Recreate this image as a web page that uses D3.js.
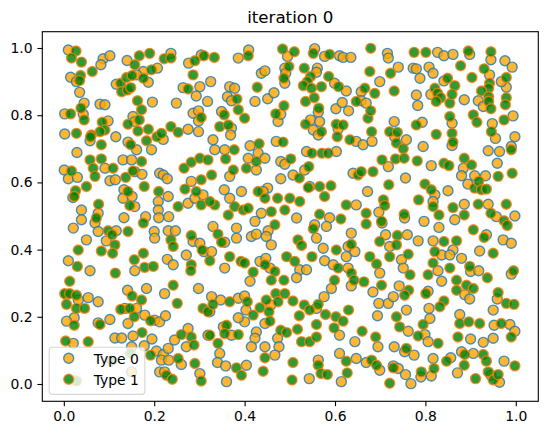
<!DOCTYPE html>
<html><head><meta charset="utf-8">
<script src="https://cdn.jsdelivr.net/npm/d3@7"></script>
<style>body{margin:0;background:#fff}svg{display:block}text{font-family:"DejaVu Sans",sans-serif}</style>
</head><body><svg id="c" width="547" height="434"></svg>
<script>
const chartTitle = "iteration 0";
const seriesNames = ["Type 0", "Type 1"];
const xTicks = [0, 0.2, 0.4, 0.6, 0.8, 1.0];
const yTicks = [0, 0.2, 0.4, 0.6, 0.8, 1.0];

const type0Points = [
[0.010,0.994],[0.087,0.968],[0.102,0.977],[0.082,0.950],[0.140,0.963],[0.176,0.930],[0.207,0.940],[0.237,0.984],[0.276,0.955],[0.304,0.979],[0.015,0.913],[0.028,0.900],[0.035,0.868],[0.116,0.892],[0.161,0.920],[0.187,0.898],[0.264,0.882],[0.301,0.885],[0.293,0.857],[0.318,0.841],[0.045,0.836],[0.080,0.833],[0.091,0.831],[0.196,0.839],[0.249,0.836],[0.002,0.804],[0.043,0.803],[0.153,0.796],[0.157,0.781],[0.286,0.806],[0.298,0.813],[0.298,0.783],[0.098,0.783],[0.002,0.744],[0.058,0.724],[0.115,0.736],[0.220,0.728],[0.275,0.758],[0.298,0.751],[0.142,0.720],[0.161,0.697],[0.029,0.689],[0.194,0.697],
[0.386,0.970],[0.409,0.994],[0.495,0.975],[0.489,0.940],[0.555,0.998],[0.577,0.975],[0.610,0.977],[0.618,0.972],[0.635,0.972],[0.437,0.925],[0.445,0.932],[0.491,0.925],[0.489,0.895],[0.561,0.940],[0.559,0.928],[0.599,0.895],[0.625,0.872],[0.325,0.900],[0.367,0.885],[0.378,0.880],[0.658,0.870],[0.362,0.855],[0.371,0.843],[0.423,0.841],[0.451,0.849],[0.465,0.867],[0.474,0.781],[0.480,0.803],[0.563,0.809],[0.602,0.819],[0.616,0.838],[0.630,0.813],[0.658,0.843],[0.669,0.836],[0.349,0.811],[0.371,0.761],[0.369,0.741],[0.546,0.786],[0.552,0.756],[0.566,0.781],[0.563,0.741],[0.607,0.759],[0.330,0.727],[0.334,0.697],[0.356,0.697],[0.412,0.709],[0.430,0.687],[0.470,0.722],[0.647,0.722],[0.537,0.692],[0.603,0.692],[0.662,0.712],
[0.716,0.984],[0.718,0.970],[0.827,0.987],[0.841,0.977],[0.861,0.981],[0.898,0.981],[0.945,0.965],[0.740,0.943],[0.773,0.940],[0.780,0.938],[0.808,0.943],[0.817,0.925],[0.788,0.910],[0.942,0.920],[0.976,0.962],[0.992,0.943],[0.979,0.883],[0.699,0.900],[0.841,0.902],[0.968,0.900],[0.780,0.860],[0.783,0.829],[0.812,0.862],[0.886,0.846],[0.917,0.843],[0.928,0.826],[0.994,0.798],[0.859,0.776],[0.948,0.775],[0.731,0.781],[0.793,0.779],[0.682,0.722],[0.732,0.736],[0.758,0.727],[0.795,0.707],[0.859,0.710],[0.955,0.731],[0.998,0.736],[0.990,0.707],[0.964,0.692],[0.939,0.694],
[0.091,0.642],[0.131,0.667],[0.150,0.667],[0.001,0.637],[0.010,0.611],[0.030,0.615],[0.102,0.605],[0.114,0.608],[0.157,0.632],[0.173,0.624],[0.212,0.627],[0.220,0.622],[0.229,0.611],[0.133,0.578],[0.131,0.553],[0.151,0.558],[0.157,0.528],[0.209,0.543],[0.231,0.558],[0.275,0.538],[0.282,0.603],[0.290,0.553],[0.308,0.563],[0.039,0.518],[0.039,0.489],[0.021,0.464],[0.076,0.508],[0.069,0.479],[0.133,0.495],[0.181,0.498],[0.209,0.518],[0.210,0.495],[0.232,0.498],[0.076,0.454],[0.116,0.456],[0.094,0.426],[0.200,0.454],[0.201,0.434],[0.231,0.456],[0.247,0.456],[0.286,0.424],[0.301,0.419],[0.310,0.394],[0.050,0.429],[0.010,0.367],[0.058,0.337],[0.157,0.337],[0.229,0.371],[0.242,0.355],[0.271,0.384],[0.020,0.555],
[0.367,0.618],[0.408,0.672],[0.426,0.637],[0.445,0.672],[0.480,0.662],[0.489,0.654],[0.480,0.611],[0.507,0.622],[0.533,0.637],[0.544,0.588],[0.640,0.627],[0.355,0.578],[0.367,0.553],[0.393,0.573],[0.451,0.583],[0.441,0.573],[0.437,0.508],[0.515,0.494],[0.672,0.573],[0.647,0.533],[0.423,0.484],[0.452,0.456],[0.588,0.495],[0.555,0.474],[0.581,0.469],[0.636,0.449],[0.330,0.469],[0.356,0.422],[0.382,0.464],[0.382,0.434],[0.415,0.439],[0.426,0.446],[0.448,0.439],[0.459,0.414],[0.574,0.404],[0.559,0.434],[0.625,0.379],[0.629,0.409],[0.644,0.394],[0.327,0.394],[0.356,0.345],[0.434,0.365],[0.447,0.374],[0.456,0.345],[0.522,0.340],[0.537,0.340],[0.577,0.367],[0.629,0.345],[0.596,0.355],
[0.718,0.647],[0.813,0.650],[0.884,0.642],[0.880,0.620],[0.909,0.620],[0.933,0.620],[0.959,0.657],[0.756,0.613],[0.821,0.563],[0.817,0.543],[0.850,0.575],[0.894,0.595],[0.886,0.535],[0.939,0.535],[0.697,0.511],[0.704,0.479],[0.754,0.494],[0.797,0.484],[0.830,0.466],[0.865,0.489],[0.957,0.498],[0.998,0.500],[0.935,0.444],[0.972,0.429],[0.990,0.419],[0.712,0.444],[0.760,0.444],[0.784,0.426],[0.721,0.409],[0.817,0.426],[0.861,0.399],[0.836,0.384],[0.920,0.396],[0.699,0.330],[0.747,0.370],[0.751,0.345],[0.828,0.337],[0.854,0.384],[0.880,0.374],[0.900,0.335],[0.918,0.337],[0.990,0.327],
[0.006,0.266],[0.032,0.250],[0.054,0.257],[0.076,0.245],[0.023,0.197],[0.141,0.279],[0.183,0.284],[0.223,0.269],[0.298,0.284],[0.135,0.225],[0.161,0.225],[0.142,0.180],[0.179,0.205],[0.201,0.190],[0.212,0.185],[0.225,0.203],[0.006,0.187],[0.076,0.182],[0.102,0.192],[0.113,0.137],[0.128,0.137],[0.153,0.143],[0.195,0.134],[0.178,0.114],[0.275,0.165],[0.245,0.131],[0.271,0.111],[0.319,0.145],[0.021,0.121],[0.150,0.111],[0.205,0.098],[0.220,0.088],[0.231,0.106],[0.216,0.071],[0.232,0.071],[0.260,0.058],[0.212,0.036],[0.223,0.036],[0.301,0.031],[0.150,0.036],
[0.412,0.306],[0.515,0.316],[0.592,0.284],[0.636,0.292],[0.327,0.260],[0.323,0.215],[0.347,0.250],[0.386,0.255],[0.400,0.262],[0.458,0.235],[0.403,0.220],[0.400,0.185],[0.386,0.197],[0.445,0.180],[0.559,0.225],[0.576,0.260],[0.610,0.145],[0.353,0.170],[0.371,0.145],[0.426,0.155],[0.423,0.136],[0.415,0.111],[0.445,0.111],[0.473,0.136],[0.476,0.111],[0.467,0.086],[0.644,0.126],[0.610,0.091],[0.647,0.076],[0.669,0.064],[0.345,0.091],[0.340,0.064],[0.358,0.054],[0.404,0.056],[0.360,0.007],[0.543,0.016],[0.563,0.071],[0.614,0.007],
[0.684,0.274],[0.742,0.292],[0.836,0.306],[0.887,0.266],[0.898,0.253],[0.697,0.240],[0.718,0.240],[0.694,0.203],[0.729,0.260],[0.758,0.220],[0.806,0.276],[0.808,0.225],[0.810,0.195],[0.959,0.253],[0.950,0.220],[0.762,0.157],[0.799,0.147],[0.806,0.126],[0.876,0.207],[0.952,0.175],[0.987,0.177],[0.998,0.157],[0.950,0.136],[0.695,0.111],[0.731,0.111],[0.754,0.096],[0.775,0.086],[0.900,0.134],[0.928,0.124],[0.880,0.096],[0.906,0.091],[0.699,0.041],[0.729,0.054],[0.740,0.046],[0.756,0.028],[0.768,0.001],[0.817,0.076],[0.813,0.024],[0.790,0.021],[0.856,0.078],[0.871,0.033],[0.974,0.068],[0.945,0.026],[0.964,0.005]
];

const type1Points = [
[0.027,0.991],[0.017,0.970],[0.039,0.958],[0.063,0.930],[0.167,0.977],[0.190,0.984],[0.157,0.950],[0.194,0.935],[0.222,0.968],[0.237,0.970],[0.290,0.962],[0.310,0.977],[0.037,0.918],[0.035,0.903],[0.126,0.895],[0.139,0.912],[0.151,0.918],[0.128,0.870],[0.141,0.875],[0.148,0.882],[0.176,0.910],[0.286,0.920],[0.275,0.878],[0.038,0.821],[0.163,0.843],[0.015,0.804],[0.045,0.786],[0.172,0.816],[0.167,0.786],[0.142,0.773],[0.304,0.793],[0.085,0.779],[0.091,0.756],[0.080,0.751],[0.028,0.746],[0.061,0.741],[0.059,0.735],[0.164,0.753],[0.187,0.758],[0.183,0.724],[0.206,0.736],[0.216,0.746],[0.237,0.766],[0.253,0.749],[0.148,0.712],[0.083,0.712],
[0.333,0.972],[0.408,0.977],[0.484,0.997],[0.510,0.989],[0.498,0.945],[0.552,0.984],[0.588,0.981],[0.487,0.910],[0.532,0.940],[0.546,0.915],[0.539,0.900],[0.530,0.888],[0.548,0.880],[0.586,0.915],[0.570,0.885],[0.608,0.885],[0.428,0.883],[0.666,0.880],[0.383,0.848],[0.487,0.828],[0.469,0.804],[0.535,0.841],[0.554,0.852],[0.564,0.821],[0.647,0.841],[0.673,0.791],[0.386,0.816],[0.400,0.791],[0.355,0.801],[0.345,0.766],[0.364,0.771],[0.535,0.773],[0.570,0.751],[0.603,0.773],[0.618,0.771],[0.377,0.697],[0.432,0.715],[0.485,0.720],[0.605,0.736],[0.633,0.727],[0.549,0.687],[0.571,0.687],[0.585,0.687],
[0.679,0.999],[0.775,0.987],[0.801,0.987],[0.895,0.991],[0.945,0.989],[0.878,0.947],[0.903,0.912],[0.930,0.938],[0.979,0.912],[0.677,0.930],[0.723,0.925],[0.849,0.910],[0.865,0.888],[0.942,0.895],[0.940,0.880],[0.731,0.872],[0.688,0.865],[0.821,0.880],[0.827,0.865],[0.834,0.852],[0.824,0.841],[0.854,0.836],[0.859,0.862],[0.924,0.872],[0.940,0.855],[0.940,0.841],[0.945,0.819],[0.979,0.852],[0.977,0.831],[0.679,0.813],[0.854,0.796],[0.906,0.801],[0.914,0.779],[0.974,0.786],[0.780,0.771],[0.681,0.751],[0.721,0.751],[0.738,0.749],[0.736,0.717],[0.751,0.700],[0.824,0.743],[0.859,0.746],[0.861,0.720],[0.946,0.751],[0.990,0.697],
[0.058,0.667],[0.083,0.670],[0.065,0.642],[0.109,0.642],[0.172,0.662],[0.017,0.634],[0.069,0.618],[0.137,0.615],[0.153,0.634],[0.178,0.588],[0.266,0.642],[0.282,0.660],[0.301,0.672],[0.319,0.667],[0.050,0.588],[0.026,0.575],[0.023,0.558],[0.142,0.573],[0.146,0.531],[0.210,0.573],[0.253,0.528],[0.304,0.608],[0.268,0.580],[0.293,0.573],[0.304,0.533],[0.077,0.535],[0.072,0.494],[0.176,0.479],[0.098,0.456],[0.107,0.444],[0.142,0.454],[0.113,0.414],[0.237,0.429],[0.242,0.409],[0.282,0.442],[0.306,0.399],[0.032,0.399],[0.083,0.396],[0.108,0.389],[0.030,0.350],[0.156,0.370],[0.176,0.389],[0.179,0.347],[0.198,0.350],[0.282,0.355],[0.281,0.337],[0.114,0.330],
[0.358,0.670],[0.375,0.637],[0.426,0.662],[0.404,0.642],[0.502,0.670],[0.521,0.613],[0.542,0.647],[0.541,0.585],[0.566,0.588],[0.591,0.590],[0.577,0.558],[0.651,0.622],[0.658,0.632],[0.327,0.622],[0.334,0.533],[0.323,0.543],[0.378,0.528],[0.430,0.573],[0.445,0.553],[0.397,0.518],[0.408,0.523],[0.473,0.553],[0.500,0.553],[0.522,0.543],[0.459,0.513],[0.489,0.518],[0.625,0.533],[0.364,0.503],[0.467,0.474],[0.566,0.505],[0.613,0.491],[0.552,0.462],[0.669,0.508],[0.669,0.476],[0.341,0.446],[0.349,0.422],[0.518,0.429],[0.526,0.412],[0.603,0.399],[0.636,0.416],[0.367,0.379],[0.323,0.367],[0.392,0.365],[0.400,0.360],[0.419,0.333],[0.445,0.355],[0.467,0.335],[0.493,0.379],[0.511,0.365],[0.549,0.379],[0.607,0.345],[0.636,0.330],
[0.704,0.667],[0.734,0.670],[0.753,0.672],[0.782,0.664],[0.841,0.657],[0.852,0.650],[0.886,0.672],[0.902,0.652],[0.992,0.627],[0.961,0.618],[0.684,0.632],[0.719,0.593],[0.799,0.595],[0.813,0.578],[0.817,0.528],[0.785,0.548],[0.909,0.583],[0.918,0.603],[0.924,0.578],[0.935,0.580],[0.861,0.525],[0.917,0.535],[0.979,0.535],[0.707,0.548],[0.710,0.531],[0.703,0.484],[0.753,0.505],[0.830,0.503],[0.886,0.503],[0.945,0.508],[0.974,0.486],[0.981,0.472],[0.906,0.459],[0.930,0.436],[0.699,0.424],[0.738,0.442],[0.736,0.414],[0.841,0.424],[0.869,0.426],[0.821,0.394],[0.950,0.389],[0.677,0.379],[0.692,0.357],[0.721,0.379],[0.762,0.386],[0.766,0.325],[0.817,0.360],[0.806,0.325],[0.854,0.345],[0.898,0.350],[0.995,0.337],
[0.013,0.306],[0.002,0.269],[0.013,0.269],[0.028,0.264],[0.006,0.237],[0.028,0.225],[0.046,0.225],[0.151,0.262],[0.172,0.250],[0.242,0.294],[0.251,0.240],[0.126,0.222],[0.146,0.225],[0.156,0.200],[0.192,0.188],[0.308,0.225],[0.319,0.215],[0.023,0.175],[0.080,0.177],[0.173,0.153],[0.192,0.086],[0.260,0.147],[0.282,0.140],[0.288,0.116],[0.004,0.128],[0.054,0.126],[0.148,0.091],[0.253,0.076],[0.290,0.061],[0.227,0.026],[0.240,0.014],[0.304,0.009],[0.028,0.009],[0.105,0.068],
[0.459,0.309],[0.487,0.309],[0.599,0.309],[0.642,0.309],[0.664,0.304],[0.330,0.237],[0.367,0.245],[0.406,0.245],[0.448,0.250],[0.469,0.269],[0.489,0.269],[0.474,0.245],[0.507,0.247],[0.434,0.227],[0.419,0.205],[0.454,0.215],[0.456,0.187],[0.521,0.203],[0.532,0.235],[0.544,0.220],[0.563,0.237],[0.579,0.207],[0.602,0.200],[0.618,0.187],[0.630,0.220],[0.559,0.177],[0.598,0.167],[0.360,0.175],[0.356,0.150],[0.386,0.147],[0.323,0.145],[0.341,0.121],[0.480,0.160],[0.493,0.153],[0.517,0.163],[0.526,0.126],[0.544,0.126],[0.559,0.140],[0.660,0.157],[0.625,0.068],[0.382,0.048],[0.393,0.026],[0.445,0.078],[0.441,0.038],[0.507,0.064],[0.505,0.012],[0.563,0.056],[0.569,0.031],[0.583,0.028],[0.627,0.033],
[0.763,0.279],[0.703,0.294],[0.869,0.309],[0.891,0.294],[0.906,0.284],[0.869,0.279],[0.937,0.316],[0.754,0.264],[0.801,0.269],[0.795,0.177],[0.841,0.247],[0.832,0.230],[0.961,0.272],[0.979,0.240],[0.996,0.237],[0.736,0.200],[0.743,0.170],[0.784,0.143],[0.828,0.121],[0.876,0.180],[0.896,0.185],[0.920,0.180],[0.968,0.180],[0.990,0.140],[0.690,0.140],[0.758,0.106],[0.872,0.140],[0.887,0.088],[0.886,0.056],[0.928,0.088],[0.935,0.068],[0.681,0.071],[0.692,0.056],[0.729,0.048],[0.819,0.046],[0.791,0.036],[0.847,0.068],[0.998,0.054],[0.939,0.036],[0.950,0.012],[0.961,0.028],[0.911,0.016],[0.721,0.002]
];

const series = [
  {name: seriesNames[0], points: type0Points, fill: "orange", stroke: "#1f77b4"},
  {name: seriesNames[1], points: type1Points, fill: "green", stroke: "#ff7f0e"}
];

const box = {left: 42.3, right: 538.3, top: 31.7, bottom: 401.3};
const x = d3.scaleLinear().domain([-0.0476, 1.0498]).range([box.left, box.right]);
const y = d3.scaleLinear().domain([-0.0515, 1.0485]).range([box.bottom, box.top]);
const R = 5.0, SW = 1.4, ALPHA = 0.8;

const svg = d3.select("#c");
svg.append("rect").attr("width", 547).attr("height", 434).attr("fill", "#fff");

svg.append("defs").append("clipPath").attr("id", "clip")
  .append("rect").attr("x", box.left).attr("y", box.top)
  .attr("width", box.right - box.left).attr("height", box.bottom - box.top);

const plot = svg.append("g").attr("clip-path", "url(#clip)");
series.forEach(s => {
  plot.append("g").selectAll("circle").data(s.points).join("circle")
    .attr("cx", d => x(d[0])).attr("cy", d => y(d[1])).attr("r", R)
    .attr("fill", s.fill).attr("fill-opacity", ALPHA)
    .attr("stroke", s.stroke).attr("stroke-opacity", ALPHA).attr("stroke-width", SW);
});

const tickLen = 4.86, tickPad = 4.86, fs = 13.9;
const xAxis = svg.append("g").attr("transform", `translate(0,${box.bottom})`)
  .call(d3.axisBottom(x).tickValues(xTicks).tickFormat(d3.format(".1f")).tickSize(tickLen).tickPadding(tickPad).tickSizeOuter(0));
const yAxis = svg.append("g").attr("transform", `translate(${box.left},0)`)
  .call(d3.axisLeft(y).tickValues(yTicks).tickFormat(d3.format(".1f")).tickSize(tickLen).tickPadding(tickPad).tickSizeOuter(0));
[xAxis, yAxis].forEach(a => {
  a.select(".domain").remove();
  a.selectAll("line").attr("stroke", "#000").attr("stroke-width", 1.1);
  a.selectAll("text").attr("font-family", "DejaVu Sans").attr("font-size", fs).attr("fill", "#000");
});

svg.append("rect").attr("x", box.left).attr("y", box.top)
  .attr("width", box.right - box.left).attr("height", box.bottom - box.top)
  .attr("fill", "none").attr("stroke", "#000").attr("stroke-width", 1.1);

svg.append("text").attr("x", (box.left + box.right) / 2).attr("y", 23.4)
  .attr("text-anchor", "middle").attr("font-size", 16.67).attr("fill", "#000").text(chartTitle);

// legend
const lg = svg.append("g");
lg.append("rect").attr("x", 49.2).attr("y", 347.3).attr("width", 95.6).attr("height", 47.1)
  .attr("rx", 2.8).attr("fill", "#fff").attr("fill-opacity", 0.8)
  .attr("stroke", "#cccccc").attr("stroke-opacity", 0.8).attr("stroke-width", 1.1);
series.forEach((s, i) => {
  const cy = 358.3 + i * 21;
  lg.append("circle").attr("cx", 68.7).attr("cy", cy).attr("r", R)
    .attr("fill", s.fill).attr("fill-opacity", ALPHA)
    .attr("stroke", s.stroke).attr("stroke-opacity", ALPHA).attr("stroke-width", SW);
  lg.append("text").attr("x", 93.7).attr("y", cy + 5.2).attr("font-size", fs).attr("fill", "#000").text(s.name);
});
</script></body></html>
